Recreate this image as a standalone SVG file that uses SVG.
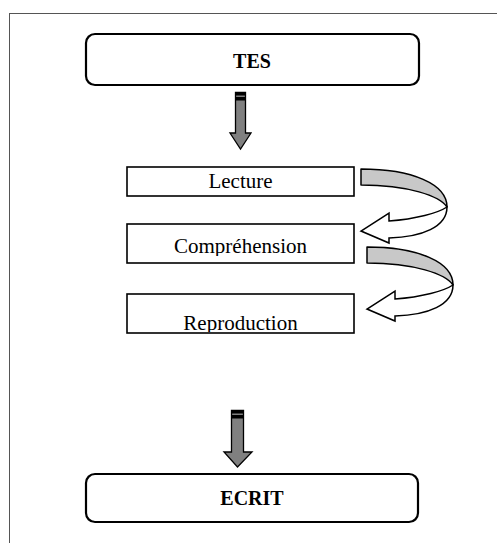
<svg xmlns="http://www.w3.org/2000/svg" width="497" height="543" viewBox="0 0 497 543">
<style>
.frame{fill:none;stroke:#555;stroke-width:1}
.term{fill:#fff;stroke:#000;stroke-width:2.2}
.step{fill:#fff;stroke:#000;stroke-width:1.6}
.tb{font-family:"Liberation Serif",serif;font-weight:bold;font-size:20px;fill:#000;text-anchor:middle}
.ts{font-family:"Liberation Serif",serif;font-size:21px;fill:#000;text-anchor:middle}
.down{fill:#808080;stroke:#000;stroke-width:1.3}
.band{fill:#c8c8c8;stroke:#000;stroke-width:1.5;stroke-linejoin:round}
.head{fill:#fff;stroke:#000;stroke-width:1.5;stroke-linejoin:miter}
</style>
<defs>
<g id="curved">
<path class="band" d="M361,169 C412,169 447,184 447,207 C440,196 408,185 361,185 Z"/>
<path class="head" d="M447,207 C447,227 422,237 389,238 L389,243 L361,231 L389,213 L389,221 C416,219 438,213 447,207 Z"/>
</g>
<clipPath id="c2"><rect x="128" y="225" width="225" height="31"/></clipPath>
<clipPath id="c3"><rect x="128" y="295" width="225" height="37"/></clipPath>
</defs>
<rect class="frame" x="9.5" y="13.5" width="500" height="540"/>
<g id="connectors">
<g id="arrow1">
<path class="down" d="M235.5,92.5 H245.5 V133 H251 L240.5,149 L230,133 H235.5 Z"/>
<rect x="235.5" y="92.5" width="10" height="3" fill="#000"/>
<rect x="235.5" y="97" width="10" height="3.5" fill="#000"/>
</g>
<g id="arrow2">
<path class="down" d="M231.5,410.5 H243.5 V452 H252 L237.5,467 L224,452 H231.5 Z"/>
<rect x="231.5" y="410.5" width="12" height="3" fill="#000"/>
<rect x="231.5" y="415" width="12" height="3.5" fill="#000"/>
</g>
<use id="curve1" href="#curved"/>
<use id="curve2" href="#curved" transform="translate(6,78)"/>
</g>
<g id="tes">
<rect class="term" x="86" y="34" width="333" height="51" rx="9"/>
<text class="tb" x="252" y="68">TES</text>
</g>
<g id="lecture">
<rect class="step" x="127" y="167" width="227" height="29"/>
<text class="ts" x="240.5" y="188">Lecture</text>
</g>
<g id="comprehension">
<rect class="step" x="127" y="224" width="227" height="39"/>
<text class="ts" x="240.5" y="253" clip-path="url(#c2)">Compréhension</text>
</g>
<g id="reproduction">
<rect class="step" x="127" y="294" width="227" height="39"/>
<text class="ts" x="240.5" y="330" clip-path="url(#c3)">Reproduction</text>
</g>
<g id="ecrit">
<rect class="term" x="86" y="474" width="332" height="48" rx="9"/>
<text class="tb" x="252" y="505">ECRIT</text>
</g>
</svg>
